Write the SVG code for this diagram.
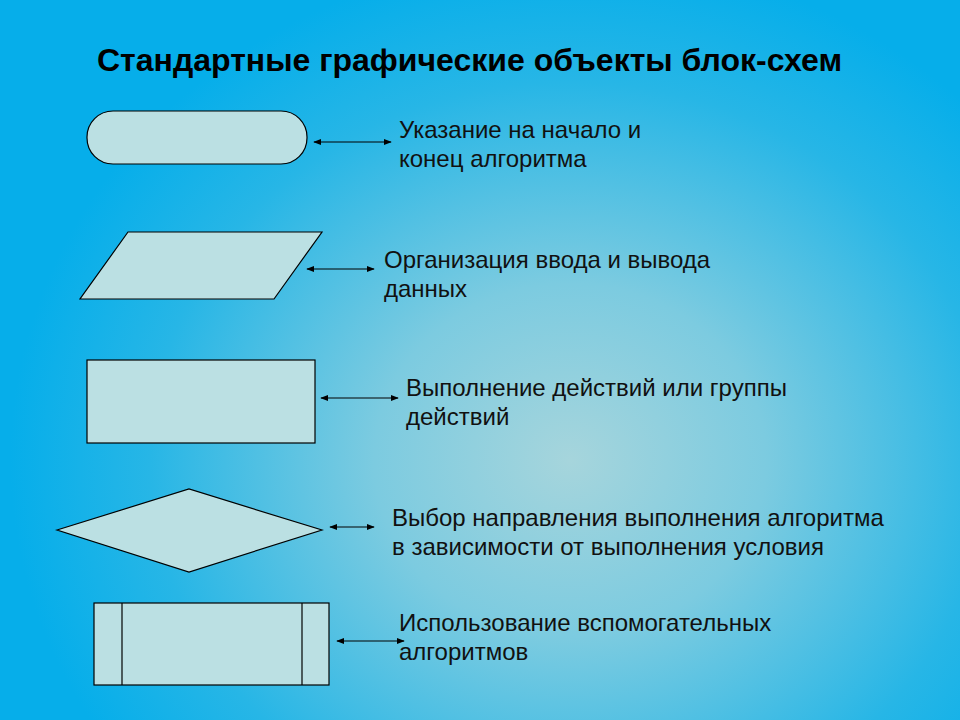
<svg xmlns="http://www.w3.org/2000/svg" width="960" height="720" viewBox="0 0 960 720">
<defs>
<radialGradient id="bg" gradientUnits="userSpaceOnUse" cx="570" cy="460" r="560" gradientTransform="translate(570 460) scale(1 0.9) translate(-570 -460)">
<stop offset="0" stop-color="#a6d5dc"/>
<stop offset="0.35" stop-color="#7ccbe0"/>
<stop offset="0.75" stop-color="#27b6e6"/>
<stop offset="1" stop-color="#06aeea"/>
</radialGradient>
<marker id="ah" viewBox="0 0 10 10" refX="9" refY="5" markerWidth="8" markerHeight="8" markerUnits="userSpaceOnUse" orient="auto-start-reverse">
<path d="M0,1 L10,5 L0,9 Z" fill="#000"/>
</marker>
<style>
.shape{fill:#bbe0e3;stroke:#000;stroke-width:1.2}
.lbl{font-family:"Liberation Sans",Arial,sans-serif;font-size:24px;fill:#111}
.title{font-family:"Liberation Sans",Arial,sans-serif;font-size:32px;font-weight:bold;fill:#000}
.conn{stroke:#000;stroke-width:1.2;fill:none;marker-start:url(#ah);marker-end:url(#ah)}
</style>
</defs>
<rect x="0" y="0" width="960" height="720" fill="url(#bg)"/>
<text class="title" x="97" y="71">Стандартные графические объекты блок-схем</text>

<g id="terminator">
<rect class="shape" x="87" y="111" width="220" height="53" rx="26" ry="26"/>
</g>
<g id="io">
<polygon class="shape" points="128,232 322,232 274,299 80,299"/>
</g>
<g id="process">
<rect class="shape" x="87" y="360" width="228" height="83"/>
</g>
<g id="decision">
<polygon class="shape" points="57,530 189,489 322,530 189,572"/>
</g>
<g id="subprocess">
<rect class="shape" x="94" y="603" width="235" height="82"/>
<line x1="122" y1="603" x2="122" y2="685" stroke="#000" stroke-width="1.2"/>
<line x1="302" y1="603" x2="302" y2="685" stroke="#000" stroke-width="1.2"/>
</g>

<g id="connectors">
<line class="conn" x1="314" y1="142" x2="391" y2="142"/>
<line class="conn" x1="307" y1="269" x2="374" y2="269"/>
<line class="conn" x1="321" y1="398" x2="398" y2="398"/>
<line class="conn" x1="330" y1="527" x2="374" y2="527"/>
<line class="conn" x1="337" y1="641" x2="404" y2="641"/>
</g>

<g id="labels">
<text class="lbl" x="399" y="138">Указание на начало и</text>
<text class="lbl" x="399" y="167">конец алгоритма</text>
<text class="lbl" x="384" y="268">Организация ввода и вывода</text>
<text class="lbl" x="384" y="297">данных</text>
<text class="lbl" x="406" y="396">Выполнение действий или группы</text>
<text class="lbl" x="406" y="425">действий</text>
<text class="lbl" x="392" y="526">Выбор направления выполнения алгоритма</text>
<text class="lbl" x="392" y="555">в зависимости от выполнения условия</text>
<text class="lbl" x="399" y="631">Использование вспомогательных</text>
<text class="lbl" x="399" y="660">алгоритмов</text>
</g>
</svg>
